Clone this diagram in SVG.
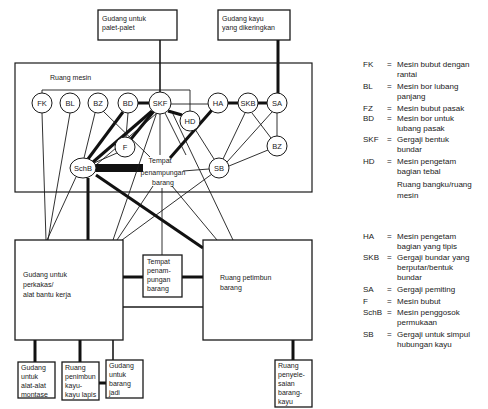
<svg xmlns="http://www.w3.org/2000/svg" width="488" height="409" viewBox="0 0 488 409">
<style>
text{font-family:"Liberation Sans",Arial,sans-serif;fill:#1a1a1a}
.box{fill:#fff;stroke:#1a1a1a;stroke-width:1.3}
.room{fill:none;stroke:#1a1a1a;stroke-width:1.2}
.nd{fill:#fff;stroke:#1a1a1a;stroke-width:1}
.nl{font-size:7.5px;text-anchor:middle}
.bt{font-size:7px}
.lg{font-size:8px}
.t{stroke:#1a1a1a;stroke-width:0.9;fill:none}
.m{stroke:#1a1a1a;stroke-width:1.6;fill:none}
.k{stroke:#111;stroke-width:3;fill:none}
</style>
<rect width="488" height="409" fill="#fff"/>

<g id="connectors">
<line class="m" x1="160" y1="40" x2="160" y2="92"/>
<line class="k" x1="278" y1="40" x2="278" y2="93"/>
<polyline class="t" points="42,93 42,90 190,90 190,111"/>
<line class="k" x1="138" y1="103" x2="149" y2="103"/>
<line class="t" x1="171" y1="104" x2="208" y2="104"/>
<line class="k" x1="228" y1="103" x2="238" y2="103"/>
<line class="k" x1="258" y1="103" x2="267" y2="103"/>
<line class="k" x1="168" y1="111" x2="182" y2="115"/>
<line class="k" x1="212" y1="110" x2="170" y2="158"/>
<line class="k" x1="152" y1="111" x2="93" y2="162"/>
<line class="k" x1="123" y1="112" x2="88" y2="159"/>
<line class="k" x1="154" y1="111" x2="131" y2="139"/>
<line class="t" x1="157" y1="113" x2="96" y2="165"/>
<line class="t" x1="95" y1="113" x2="84" y2="158"/>
<line class="t" x1="103" y1="111" x2="150" y2="157"/>
<line class="t" x1="128" y1="113" x2="126" y2="137"/>
<line class="t" x1="117" y1="153" x2="94" y2="163"/>
<line class="t" x1="160" y1="114" x2="160" y2="155"/>
<line class="t" x1="165" y1="113" x2="186" y2="155"/>
<line class="t" x1="195" y1="129" x2="214" y2="159"/>
<line class="t" x1="183" y1="171" x2="209" y2="169"/>
<line class="t" x1="245" y1="113" x2="223" y2="159"/>
<line class="t" x1="272" y1="112" x2="227" y2="162"/>
<line class="t" x1="268" y1="150" x2="229" y2="166"/>
<line class="t" x1="252" y1="113" x2="271" y2="138"/>
<line class="t" x1="277" y1="113" x2="277" y2="136"/>
<rect x="95" y="164" width="48" height="8" fill="#111"/>
<line class="t" x1="42" y1="113" x2="46" y2="240"/>
<line class="t" x1="70" y1="113" x2="48" y2="240"/>
<line class="t" x1="76" y1="177" x2="47" y2="240"/>
<line class="k" x1="88" y1="178" x2="88" y2="240"/>
<line class="k" x1="96" y1="175" x2="203" y2="248"/>
<line class="t" x1="157" y1="112" x2="113" y2="240"/>
<line class="t" x1="153" y1="186" x2="117" y2="240"/>
<line class="t" x1="212" y1="174" x2="122" y2="240"/>
<line class="t" x1="172" y1="112" x2="233" y2="240"/>
<line class="t" x1="172" y1="186" x2="217" y2="240"/>
<line class="t" x1="162" y1="188" x2="162" y2="255"/>
<line class="k" x1="123" y1="277" x2="143" y2="277"/>
<line class="k" x1="182" y1="277" x2="203" y2="277"/>
<line class="m" x1="123" y1="307" x2="203" y2="307"/>
<line class="k" x1="35" y1="340" x2="35" y2="362"/>
<line class="k" x1="80" y1="340" x2="80" y2="362"/>
<line class="m" x1="113" y1="340" x2="113" y2="360"/>
<line class="k" x1="99" y1="383" x2="106" y2="383"/>
<line class="k" x1="293" y1="340" x2="293" y2="360"/>
</g>

<g id="top-storage-pallets">
<rect class="box" x="98" y="10" width="79" height="30"/>
<text class="bt" x="102" y="21">Gudang untuk</text>
<text class="bt" x="102" y="30">palet-palet</text>
</g>
<g id="top-storage-wood">
<rect class="box" x="218" y="10" width="72" height="30"/>
<text class="bt" x="222" y="21">Gudang kayu</text>
<text class="bt" x="222" y="30">yang dikeringkan</text>
</g>

<g id="machine-room">
<rect class="room" x="15" y="63" width="297" height="129"/>
<text class="bt" x="50" y="80">Ruang mesin</text>
</g>

<g id="FK"><circle class="nd" cx="42" cy="103" r="10"/><text class="nl" x="42" y="106">FK</text></g>
<g id="BL"><circle class="nd" cx="70" cy="103" r="10"/><text class="nl" x="70" y="106">BL</text></g>
<g id="BZ"><circle class="nd" cx="98" cy="103" r="10"/><text class="nl" x="98" y="106">BZ</text></g>
<g id="BD"><circle class="nd" cx="128" cy="103" r="10"/><text class="nl" x="128" y="106">BD</text></g>
<g id="SKF"><circle class="nd" cx="160" cy="103" r="11"/><text class="nl" x="160" y="106">SKF</text></g>
<g id="HD"><circle class="nd" cx="190" cy="121" r="10"/><text class="nl" x="190" y="124">HD</text></g>
<g id="HA"><circle class="nd" cx="218" cy="103" r="10"/><text class="nl" x="218" y="106">HA</text></g>
<g id="SKB"><circle class="nd" cx="248" cy="103" r="10"/><text class="nl" x="248" y="106">SKB</text></g>
<g id="SA"><circle class="nd" cx="277" cy="103" r="10"/><text class="nl" x="277" y="106">SA</text></g>
<g id="BZ2"><circle class="nd" cx="277" cy="146" r="10"/><text class="nl" x="277" y="149">BZ</text></g>
<g id="F"><circle class="nd" cx="125" cy="147" r="10"/><text class="nl" x="125" y="150">F</text></g>
<g id="SchB"><ellipse class="nd" cx="83" cy="168" rx="13" ry="10"/><text class="nl" x="83" y="171">SchB</text></g>
<g id="SB"><circle class="nd" cx="219" cy="168" r="10"/><text class="nl" x="219" y="171">SB</text></g>
<g id="collection-inner">
<text class="bt" x="160" y="163" text-anchor="middle">Tempat</text>
<text class="bt" x="163" y="175" text-anchor="middle">penampungan</text>
<text class="bt" x="163" y="185" text-anchor="middle">barang</text>
</g>

<g id="tool-storage">
<rect class="box" x="15" y="240" width="108" height="100"/>
<text class="bt" x="23" y="277">Gudang untuk</text>
<text class="bt" x="23" y="287">perkakas/</text>
<text class="bt" x="23" y="297">alat bantu kerja</text>
</g>
<g id="collection-box">
<rect class="box" x="143" y="255" width="39" height="42"/>
<text class="bt" x="147" y="264">Tempat</text>
<text class="bt" x="147" y="273">penam-</text>
<text class="bt" x="147" y="282">pungan</text>
<text class="bt" x="147" y="291">barang</text>
</g>
<g id="goods-storage">
<rect class="box" x="203" y="240" width="109" height="100"/>
<text class="bt" x="220" y="280">Ruang petimbun</text>
<text class="bt" x="220" y="290">barang</text>
</g>

<g id="assembly-storage">
<rect class="box" x="18" y="362" width="37" height="36"/>
<text class="bt" x="21" y="370">Gudang</text>
<text class="bt" x="21" y="379">untuk</text>
<text class="bt" x="21" y="388">alat-alat</text>
<text class="bt" x="21" y="397">montase</text>
</g>
<g id="plywood-storage">
<rect class="box" x="62" y="362" width="37" height="38"/>
<text class="bt" x="65" y="370">Ruang</text>
<text class="bt" x="65" y="379">penimbun</text>
<text class="bt" x="65" y="388">kayu-</text>
<text class="bt" x="65" y="397">kayu lapis</text>
</g>
<g id="finished-storage">
<rect class="box" x="106" y="360" width="37" height="38"/>
<text class="bt" x="109" y="368">Gudang</text>
<text class="bt" x="109" y="377">untuk</text>
<text class="bt" x="109" y="386">barang</text>
<text class="bt" x="109" y="395">jadi</text>
</g>
<g id="finishing-room">
<rect class="box" x="275" y="360" width="37" height="47"/>
<text class="bt" x="278" y="368">Ruang</text>
<text class="bt" x="278" y="377">penyele-</text>
<text class="bt" x="278" y="386">saian</text>
<text class="bt" x="278" y="395">barang-</text>
<text class="bt" x="278" y="404">kayu</text>
</g>

<g id="legend">
<text class="lg" x="363" y="67">FK</text><text class="lg" x="387" y="67">=</text><text class="lg" x="397" y="67">Mesin bubut dengan</text>
<text class="lg" x="397" y="77">rantai</text>
<text class="lg" x="363" y="89">BL</text><text class="lg" x="387" y="89">=</text><text class="lg" x="397" y="89">Mesin bor lubang</text>
<text class="lg" x="397" y="99">panjang</text>
<text class="lg" x="363" y="111">FZ</text><text class="lg" x="387" y="111">=</text><text class="lg" x="397" y="111">Mesin bubut pasak</text>
<text class="lg" x="363" y="121">BD</text><text class="lg" x="387" y="121">=</text><text class="lg" x="397" y="121">Mesin bor untuk</text>
<text class="lg" x="397" y="131">lubang pasak</text>
<text class="lg" x="363" y="142">SKF</text><text class="lg" x="387" y="142">=</text><text class="lg" x="397" y="142">Gergaji bentuk</text>
<text class="lg" x="397" y="152">bundar</text>
<text class="lg" x="363" y="164">HD</text><text class="lg" x="387" y="164">=</text><text class="lg" x="397" y="164">Mesin pengetam</text>
<text class="lg" x="397" y="174">bagian tebal</text>
<text class="lg" x="397" y="187">Ruang bangku/ruang</text>
<text class="lg" x="397" y="198">mesin</text>

<text class="lg" x="363" y="239">HA</text><text class="lg" x="387" y="239">=</text><text class="lg" x="397" y="239">Mesin pengetam</text>
<text class="lg" x="397" y="249">bagian yang tipis</text>
<text class="lg" x="363" y="260">SKB</text><text class="lg" x="387" y="260">=</text><text class="lg" x="397" y="260">Gergaji bundar yang</text>
<text class="lg" x="397" y="270">berputar/bentuk</text>
<text class="lg" x="397" y="280">bundar</text>
<text class="lg" x="363" y="292">SA</text><text class="lg" x="387" y="292">=</text><text class="lg" x="397" y="292">Gergaji pemiting</text>
<text class="lg" x="363" y="304">F</text><text class="lg" x="387" y="304">=</text><text class="lg" x="397" y="304">Mesin bubut</text>
<text class="lg" x="363" y="315">SchB</text><text class="lg" x="387" y="315">=</text><text class="lg" x="397" y="315">Mesin penggosok</text>
<text class="lg" x="397" y="325">permukaan</text>
<text class="lg" x="363" y="337">SB</text><text class="lg" x="387" y="337">=</text><text class="lg" x="397" y="337">Gergaji untuk simpul</text>
<text class="lg" x="397" y="347">hubungan kayu</text>
</g>
</svg>
